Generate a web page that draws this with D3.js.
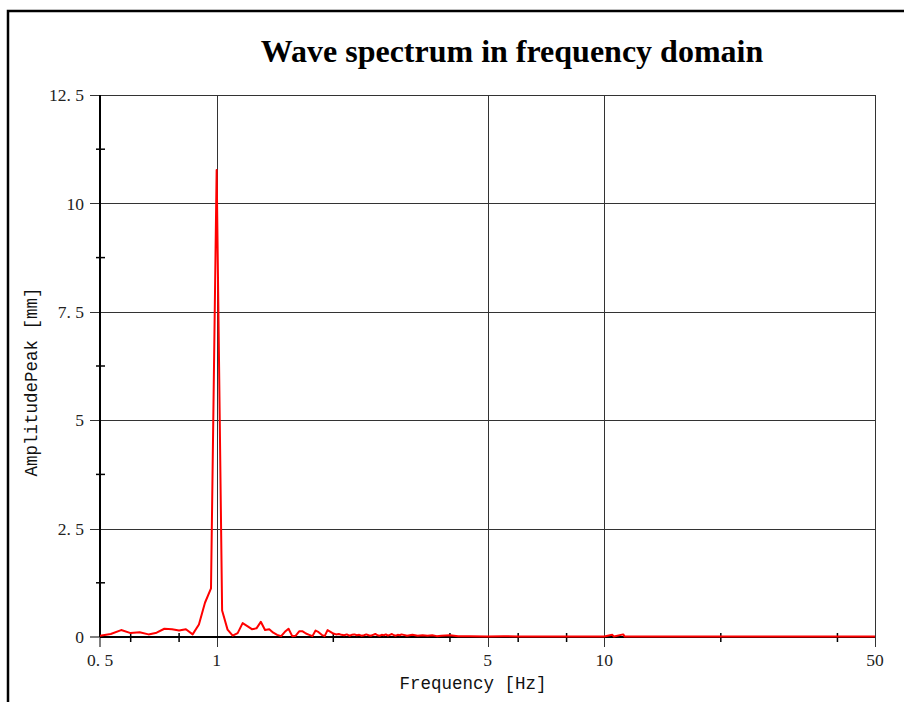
<!DOCTYPE html>
<html>
<head>
<meta charset="utf-8">
<script src="https://cdn.jsdelivr.net/npm/d3@7"></script>
<style>
  body { margin: 0; background: #fff; }
  svg { display: block; }
  .tick-label { font-family: "Liberation Serif", "DejaVu Serif", serif; font-size: 17.5px; fill: #222; }
  .axis-title { font-family: "Liberation Mono", "DejaVu Sans Mono", monospace; font-size: 17.5px; fill: #111; }
  .title { font-family: "Liberation Serif", "Times New Roman", serif; font-weight: bold; font-size: 32px; fill: #000; }
</style>
</head>
<body>
<svg></svg>
<script>
// spectrum values
var freqs = [
    0.5, 0.533, 0.567, 0.6, 0.633, 0.667, 0.7, 0.733, 0.767, 0.8,
    0.833, 0.867, 0.9, 0.933, 0.967, 1.0, 1.033, 1.067, 1.1, 1.133,
    1.167, 1.2, 1.233, 1.267, 1.3, 1.333, 1.367, 1.4, 1.433, 1.467,
    1.5, 1.533, 1.567, 1.6, 1.633, 1.667, 1.7, 1.733, 1.767, 1.8,
    1.833, 1.867, 1.9, 1.933, 1.967, 2.0, 2.033, 2.067, 2.1, 2.133,
    2.167, 2.2, 2.233, 2.267, 2.3, 2.333, 2.367, 2.4, 2.433, 2.467,
    2.5, 2.533, 2.567, 2.6, 2.633, 2.667, 2.7, 2.733, 2.767, 2.8,
    2.833, 2.867, 2.9, 2.933, 2.967, 3.0, 3.1, 3.2, 3.3, 3.4,
    3.5, 3.6, 3.7, 3.8, 4.0, 4.2, 4.5, 5.0, 5.5, 6.0,
    7.0, 8.0, 9.0, 10.0, 10.5, 10.6, 11.2, 11.3, 15, 20,
    30, 50
];
var amps = [
    0.03, 0.07, 0.16, 0.09, 0.11, 0.06, 0.10, 0.19, 0.18, 0.15,
    0.18, 0.06, 0.29, 0.79, 1.12, 10.77, 0.61, 0.17, 0.03, 0.09,
    0.32, 0.25, 0.18, 0.20, 0.35, 0.16, 0.18, 0.10, 0.05, 0.02,
    0.12, 0.19, 0.02, 0.03, 0.13, 0.13, 0.08, 0.05, 0.02, 0.15,
    0.11, 0.05, 0.02, 0.16, 0.12, 0.08, 0.06, 0.07, 0.05, 0.04,
    0.06, 0.03, 0.05, 0.06, 0.04, 0.05, 0.03, 0.04, 0.06, 0.04,
    0.03, 0.05, 0.07, 0.04, 0.03, 0.05, 0.04, 0.06, 0.03, 0.05,
    0.07, 0.04, 0.03, 0.05, 0.04, 0.06, 0.03, 0.05, 0.03, 0.04,
    0.03, 0.04, 0.02, 0.03, 0.04, 0.02, 0.02, 0.01, 0.02, 0.01,
    0.01, 0.01, 0.01, 0.01, 0.05, 0.01, 0.06, 0.01, 0.01, 0.01,
    0.01, 0.01
];

var xMajor = [0.5, 1, 5, 10, 50],
    xMinor = [0.6, 0.8, 2, 4, 6, 8, 20, 40],
    xLabels = ["0. 5", "1", "5", "10", "50"],
    xGrid = [1, 5, 10, 50];
var yMajor = [0, 2.5, 5, 7.5, 10, 12.5],
    yMinor = [1.25, 3.75, 6.25, 8.75, 11.25],
    yLabels = ["0", "2. 5", "5", "7. 5", "10", "12. 5"];

var width = 904,
    height = 702,
    margin = {top: 95, right: 29, bottom: 65, left: 100};

var svg = d3.select("svg")
    .attr("width", width)
    .attr("height", height);

var x = d3.scaleLog()
    .domain([0.5, 50])
    .range([margin.left, width - margin.right]);
var y = d3.scaleLinear()
    .domain([0, 12.5])
    .range([height - margin.bottom, margin.top]);

// outer frame (open on right and bottom)
svg.append("path")
    .attr("d", "M8," + (height + 5) + "V11H" + (width + 5))
    .attr("fill", "none")
    .attr("stroke", "#000")
    .attr("stroke-width", 2.5);

svg.append("text")
    .attr("class", "title")
    .attr("x", 512)
    .attr("y", 62)
    .attr("text-anchor", "middle")
    .text("Wave spectrum in frequency domain");

var x0 = x.range()[0], x1 = x.range()[1],
    y0 = y.range()[0], y1 = y.range()[1];

// horizontal grid + major y ticks
svg.append("g").selectAll("line")
    .data(yMajor.slice(1))
    .enter().append("line")
    .attr("x1", x0 - 10)
    .attr("x2", x1)
    .attr("y1", function(d) { return Math.round(y(d)) + 0.5; })
    .attr("y2", function(d) { return Math.round(y(d)) + 0.5; })
    .attr("stroke", "#333")
    .attr("stroke-width", 1);

// vertical grid + major x ticks
svg.append("g").selectAll("line")
    .data(xGrid)
    .enter().append("line")
    .attr("x1", function(d) { return Math.round(x(d)) + 0.5; })
    .attr("x2", function(d) { return Math.round(x(d)) + 0.5; })
    .attr("y1", y1)
    .attr("y2", y0 + 10)
    .attr("stroke", "#333")
    .attr("stroke-width", 1);

// major ticks on zero lines
svg.append("line")
    .attr("x1", x0 - 10).attr("x2", x0)
    .attr("y1", y0).attr("y2", y0)
    .attr("stroke", "#555").attr("stroke-width", 1.5);
svg.append("line")
    .attr("x1", x0).attr("x2", x0)
    .attr("y1", y0).attr("y2", y0 + 10)
    .attr("stroke", "#555").attr("stroke-width", 1.5);

// minor ticks crossing the axes
svg.append("g").selectAll("line")
    .data(yMinor)
    .enter().append("line")
    .attr("x1", x0 - 4)
    .attr("x2", x0 + 5)
    .attr("y1", function(d) { return y(d); })
    .attr("y2", function(d) { return y(d); })
    .attr("stroke", "#000")
    .attr("stroke-width", 1.5);
svg.append("g").selectAll("line")
    .data(xMinor)
    .enter().append("line")
    .attr("x1", function(d) { return x(d); })
    .attr("x2", function(d) { return x(d); })
    .attr("y1", y0 - 4)
    .attr("y2", y0 + 5)
    .attr("stroke", "#000")
    .attr("stroke-width", 1.5);

// axes lines
svg.append("line")
    .attr("x1", x0).attr("x2", x0)
    .attr("y1", y1).attr("y2", y0)
    .attr("stroke", "#000").attr("stroke-width", 2);
svg.append("line")
    .attr("x1", x0).attr("x2", x1)
    .attr("y1", y0).attr("y2", y0)
    .attr("stroke", "#000").attr("stroke-width", 2);

// tick labels
svg.append("g").selectAll("text")
    .data(yMajor)
    .enter().append("text")
    .attr("class", "tick-label")
    .attr("x", x0 - 16)
    .attr("y", function(d) { return y(d); })
    .attr("dy", "0.35em")
    .attr("text-anchor", "end")
    .text(function(d, i) { return yLabels[i]; });

svg.append("g").selectAll("text")
    .data(xMajor)
    .enter().append("text")
    .attr("class", "tick-label")
    .attr("x", function(d) { return x(d); })
    .attr("y", y0 + 29)
    .attr("text-anchor", "middle")
    .text(function(d, i) { return xLabels[i]; });

// axis titles
svg.append("text")
    .attr("class", "axis-title")
    .attr("x", 473)
    .attr("y", 689)
    .attr("text-anchor", "middle")
    .text("Frequency [Hz]");

svg.append("text")
    .attr("class", "axis-title")
    .attr("transform", "translate(37,382) rotate(-90)")
    .attr("text-anchor", "middle")
    .text("AmplitudePeak [mm]");

// spectrum line
var line = d3.line()
    .x(function(d) { return x(d[0]); })
    .y(function(d) { return y(d[1]); });

svg.append("path")
    .datum(d3.zip(freqs, amps))
    .attr("fill", "none")
    .attr("stroke", "#ff0000")
    .attr("stroke-width", 2)
    .attr("stroke-linejoin", "round")
    .attr("d", line);
</script>
</body>
</html>
